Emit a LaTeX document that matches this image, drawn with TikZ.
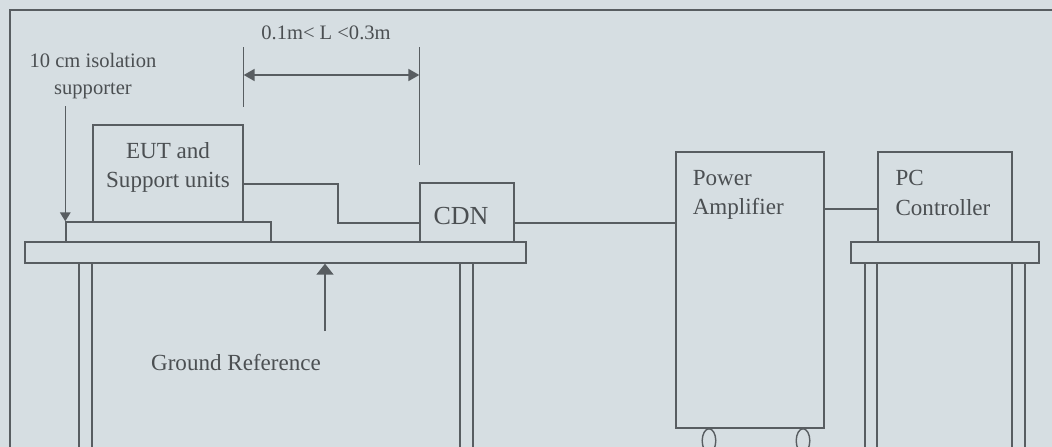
\documentclass[tikz,border=0pt]{standalone}
\usepackage{fontspec}
\setmainfont{Liberation Serif}
\usetikzlibrary{arrows.meta, positioning, calc}
\definecolor{paper}{RGB}{214,222,226}
\definecolor{ink}{RGB}{88,93,97}

\begin{document}
\begin{tikzpicture}[
    x=0.025cm, y=-0.025cm,
    unit/.style={draw=ink, line width=1pt, rectangle, inner sep=0pt},
    wire/.style={draw=ink, line width=1pt},
    dimline/.style={draw=ink, line width=0.9pt},
    pointer/.style={draw=ink, line width=1pt, -{Triangle[length=0.22cm, width=0.26cm]}},
    lbl/.style={font=\fontsize{16.4}{21}\selectfont, text=ink!85!black, inner sep=0pt},
    note/.style={font=\fontsize{14.6}{19}\selectfont, text=ink!85!black, inner sep=0pt, align=center}
]

% sheet and frame
\fill[paper] (0,0) rectangle (1052,447);
\useasboundingbox (0,0) rectangle (1052,447);
\clip (0,0) rectangle (1052,447);
\draw[wire] (10,447) -- (10,10) -- (1052,10);

% tables
\node[unit, minimum width=12.525cm, minimum height=0.525cm] (bench) at (275.5,252.5) {};
\node[unit, minimum width=4.7cm, minimum height=0.525cm] (desk) at (945,252.5) {};
\foreach \lx in {79,92,460,473}
    \draw[wire] (bench.south -| \lx,0) -- (\lx,447);
\foreach \lx in {865,877,1012,1025}
    \draw[wire] (desk.south -| \lx,0) -- (\lx,447);

% equipment
\node[unit, minimum width=5.125cm, minimum height=0.5cm] (support) at (168.5,232) {};
\node[unit, minimum width=3.75cm, minimum height=2.425cm] (eut) at (168,173.5) {};
\node[lbl, align=center] (euttext) at ([yshift=0.15cm]eut.center) {EUT and\\Support units};
\node[unit, minimum width=2.35cm, minimum height=1.475cm] (cdn) at (467,212.5) {};
\node[lbl, font=\fontsize{18.5}{20}\selectfont] (cdntext) at ([xshift=-0.15cm, yshift=-0.1cm]cdn.center) {CDN};
\node[unit, minimum width=3.7cm, minimum height=6.9cm] (pa) at (750,290) {};
\node[lbl, align=left, anchor=north west] (patext) at ([shift={(0.43cm,-0.47cm)}]pa.north west) {Power\\Amplifier};
\node[unit, minimum width=3.35cm, minimum height=2.25cm] (pc) at (945,197) {};
\node[lbl, align=left, anchor=north west] (pctext) at ([shift={(0.45cm,-0.47cm)}]pc.north west) {PC\\Controller};

% wheels
\draw[wire] ([xshift=-1.025cm, yshift=-0.3cm]pa.south) ellipse [x radius=0.17cm, y radius=0.3cm];
\draw[wire] ([xshift=1.325cm, yshift=-0.3cm]pa.south) ellipse [x radius=0.17cm, y radius=0.3cm];

% cables
\coordinate (kink) at (338,223);
\draw[wire] ([yshift=-0.26cm]eut.east) -| (kink) -- (kink -| cdn.west);
\draw[wire] (cdn.east |- kink) -- (pa.west |- kink);
\coordinate (link) at (0,209);
\draw[wire] (pa.east |- link) -- (pc.west |- link);

% length between EUT and CDN
\node[note] (span) at (326,33) {0.1m< L <0.3m};
\draw[dimline] (eut.east |- 0,47) -- (eut.east |- 0,107);
\draw[dimline] (cdn.west |- 0,47) -- (cdn.west |- 0,165);
\draw[dimline, {Triangle[length=0.27cm, width=0.3cm]}-{Triangle[length=0.27cm, width=0.3cm]}]
    (eut.east |- 0,75) -- (cdn.west |- 0,75);

% isolation supporter
\node[note] (isotext) at (93,76) {10 cm isolation\\supporter};
\draw[pointer] ([yshift=2.875cm]support.north west) -- (support.north west);

% ground reference
\node[lbl] (gndtext) at (236,362) {Ground Reference};
\coordinate (gnd) at (325,331);
\draw[pointer, -{Triangle[length=0.27cm, width=0.42cm]}] (gnd) -- (gnd |- bench.south);

\end{tikzpicture}
\end{document}
